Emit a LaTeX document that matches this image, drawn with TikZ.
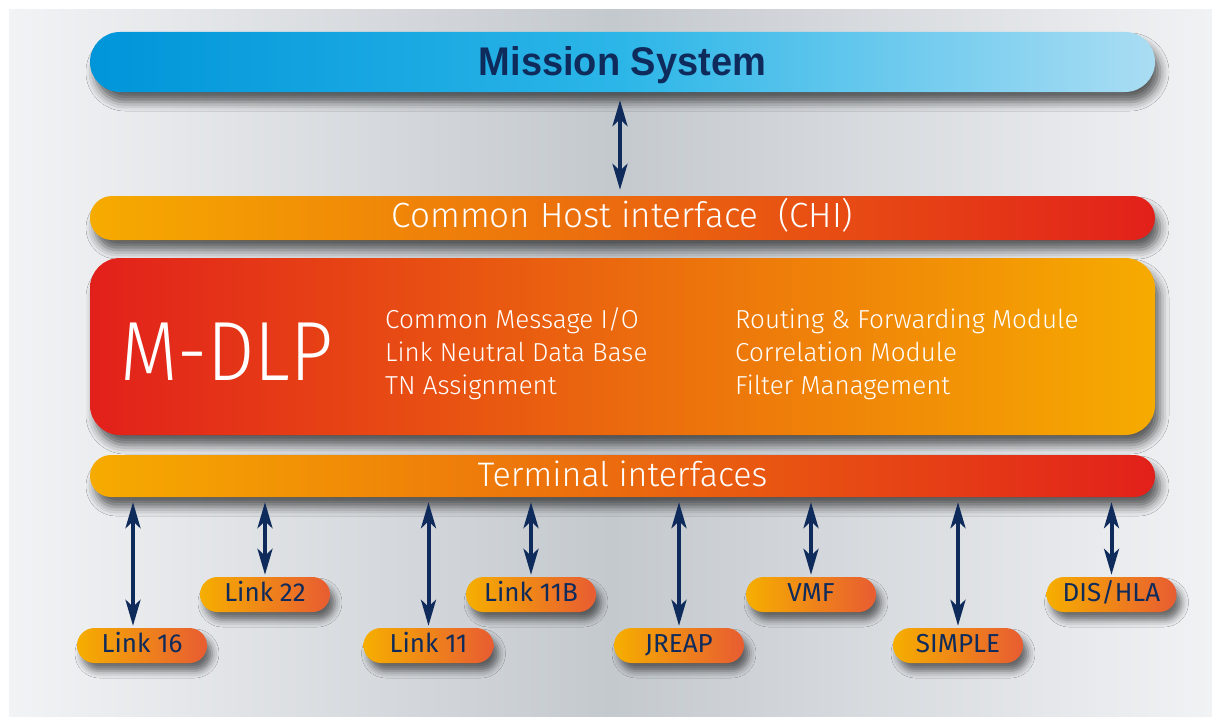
\documentclass[tikz,border=0pt]{standalone}
\usepackage{fontspec}
\setmainfont{Fira Sans}
\newfontfamily\lightf{Fira Sans Light}
\newfontfamily\headf{Liberation Sans}
\usetikzlibrary{arrows.meta,shadows.blur}
\definecolor{navy}{HTML}{0F2B5B}
\definecolor{bgL}{HTML}{F2F3F5}
\definecolor{bgM}{HTML}{C4C9CE}
\definecolor{bgR}{HTML}{F1F2F4}
\definecolor{msL}{HTML}{0095D9}
\definecolor{msM}{HTML}{2CB6E8}
\definecolor{msR}{HTML}{AADDF3}
\definecolor{orY}{HTML}{F6AB00}
\definecolor{orM}{HTML}{EB6A0E}
\definecolor{orR}{HTML}{E2201B}
\definecolor{lkL}{HTML}{F6AE00}
\definecolor{lkR}{HTML}{E85C32}
\tikzset{
  bar/.style={minimum width=1065pt, inner sep=0pt, text=white,
    blur shadow={shadow xshift=5pt, shadow yshift=-10pt, shadow blur radius=9pt, shadow opacity=60}},
  orangebar/.style={bar, left color=orY, right color=orR, middle color=orM},
  linkbox/.style={minimum width=130pt, minimum height=35pt, inner sep=0pt,
    rounded corners=17.5pt, left color=lkL, right color=lkR, text=navy,
    font=\fontsize{26}{26}\selectfont, text height=14pt, text depth=0pt,
    blur shadow={shadow xshift=5pt, shadow yshift=-8pt, shadow blur radius=7pt, shadow opacity=55}},
  biarrow/.style={draw=navy, line width=4pt, <->, >={Stealth[length=26pt,width=15pt,inset=7pt]}},
  listtext/.style={anchor=base west, inner sep=0pt, text=white, font=\lightf\fontsize{26}{26}\selectfont}
}
\begin{document}
\begin{tikzpicture}[x=1pt,y=-1pt]
\useasboundingbox (0,0) rectangle (1212,717);
\fill[white] (0,0) rectangle (1212,717);
\shade[left color=bgL, right color=bgR, middle color=bgM] (9,10) rectangle (1212,717);

\node[bar, minimum height=60pt, rounded corners=30pt, left color=msL, right color=msR, middle color=msM,
  text=navy, font=\headf\bfseries\fontsize{40}{40}\selectfont, text height=26pt, text depth=0pt]
  (ms) at (622.5,62) {\scalebox{0.95}[1]{Mission System}};

\node[orangebar, minimum height=44pt, rounded corners=22pt,
  font=\lightf\fontsize{35}{35}\selectfont, text height=18.5pt, text depth=0pt]
  (chi) at (622.5,218) {Common Host interface\ \ (CHI)};

\node[bar, minimum height=177pt, rounded corners=30pt, left color=orR, right color=orY, middle color=orM]
  (mdlp) at (622.5,346.5) {};

\node[orangebar, minimum height=42pt, rounded corners=21pt,
  font=\lightf\fontsize{34}{34}\selectfont, text height=20pt, text depth=0pt]
  (ti) at (622.5,476) {Terminal interfaces};

\node[anchor=base west, inner sep=0pt, text=white, font=\lightf\fontsize{84}{84}\selectfont] (mdlpt) at (120,380) {\scalebox{0.89}[1]{M-DLP}};
\node[listtext] (c1) at (385,328) {Common Message I/O};
\node[listtext] (c2) at (385,361) {Link Neutral Data Base};
\node[listtext] (c3) at (385,394) {TN Assignment};
\node[listtext] (d1) at (735,328) {Routing \& Forwarding Module};
\node[listtext] (d2) at (735,361) {Correlation Module};
\node[listtext] (d3) at (735,394) {Filter Management};

\node[linkbox] (l16) at (142,645.5) {Link 16};
\node[linkbox] (l11) at (428.5,645.5) {Link 11};
\node[linkbox] (jreap) at (679,645.5) {JREAP};
\node[linkbox] (simple) at (958,645.5) {SIMPLE};
\node[linkbox] (l22) at (265,594.5) {Link 22};
\node[linkbox] (l11b) at (531,594.5) {Link 11B};
\node[linkbox] (vmf) at (811,594.5) {VMF};
\node[linkbox] (dis) at (1111.5,594.5) {DIS/HLA};

\draw[biarrow, shorten <=8pt, shorten >=6pt] ([xshift=-2.5pt]ms.south) -- ([xshift=-2.5pt]chi.north);

\draw[biarrow, shorten <=5pt, shorten >=2pt] (ti.south -| {133,0}) -- ([xshift=-9pt]l16.north);
\draw[biarrow, shorten <=5pt, shorten >=2pt] (ti.south -| l22.north) -- (l22.north);
\draw[biarrow, shorten <=5pt, shorten >=2pt] (ti.south -| l11.north) -- (l11.north);
\draw[biarrow, shorten <=5pt, shorten >=2pt] (ti.south -| l11b.north) -- (l11b.north);
\draw[biarrow, shorten <=5pt, shorten >=2pt] (ti.south -| jreap.north) -- (jreap.north);
\draw[biarrow, shorten <=5pt, shorten >=2pt] (ti.south -| vmf.north) -- (vmf.north);
\draw[biarrow, shorten <=5pt, shorten >=2pt] (ti.south -| simple.north) -- (simple.north);
\draw[biarrow, shorten <=5pt, shorten >=2pt] (ti.south -| dis.north) -- (dis.north);
\end{tikzpicture}
\end{document}
